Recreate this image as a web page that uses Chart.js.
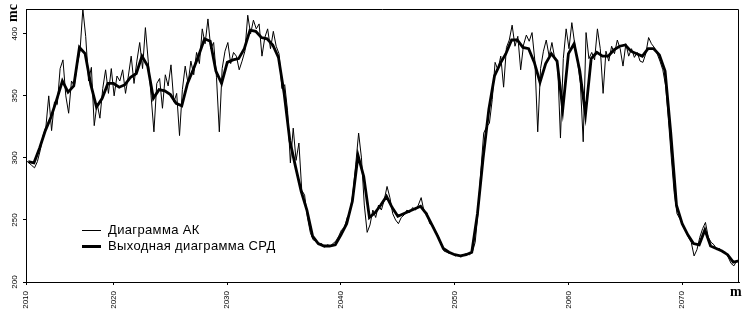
<!DOCTYPE html>
<html lang="ru">
<head>
  <meta charset="UTF-8">
  <title>Диаграмма АК / СРД</title>
  <script src="https://cdn.jsdelivr.net/npm/chart.js"></script>
  <style>
body {
  margin: 0;
  background: #fff;
}
.wrap {
  position: relative;
  width: 744px;
  height: 315px;
}
.legend-line {
  position: absolute;
  left: 82px;
  width: 19px;
  background: #000;
}
.legend-text {
  position: absolute;
  left: 108px;
  font: 13px/13px "Liberation Sans", Arial, sans-serif;
  letter-spacing: 0.35px;
  color: #000;
  white-space: nowrap;
}
.unit {
  position: absolute;
  font: bold 14px/14px "Liberation Serif", "Times New Roman", serif;
  color: #000;
}
  </style>
</head>
<body>
  <div class="wrap">
    <canvas id="chart" width="744" height="315"></canvas>

    <div class="legend-line" style="top:230px;height:1px"></div>
    <div class="legend-text" style="top:223px">Диаграмма АК</div>
    <div class="legend-line" style="top:245px;height:3px"></div>
    <div class="legend-text" style="top:239px">Выходная диаграмма СРД</div>

    <div class="unit" style="left:4px;top:6px;width:18px;text-align:center;transform:rotate(-90deg)">mc</div>
    <div class="unit" style="left:730px;top:285px">m</div>
  </div>

  <script>
    // x axis: first tick sits on the axis start but is labelled 2010
    var xTickValues = [2012.3, 2020, 2030, 2040, 2050, 2060, 2070];
    var xTickLabels = ['2010', '2020', '2030', '2040', '2050', '2060', '2070'];
    var yTickValues = [200, 250, 300, 350, 400];

    // Диаграмма АК, sampled every 0.25 from 2012.3
    var akStart = 2012.3, akStep = 0.25;
    var akValues = [
      298,296,294,292,297,306,318,325,350,322,
      345,343,372,379,350,336,362,358,375,386,
      420,398,362,373,326,344,332,356,371,352,
      372,350,366,362,371,352,366,382,360,378,
      393,372,405,378,350,321,360,364,340,367,
      358,375,345,352,318,355,374,360,378,367,
      385,376,404,392,412,388,393,365,321,372,
      386,393,376,385,382,371,378,386,415,400,
      411,404,408,382,397,404,388,402,390,384,
      356,359,338,296,324,298,312,274,270,252,
      240,234,233,230,231,228,230,229,231,233,
      237,242,244,252,256,272,295,320,300,262,
      240,246,258,252,262,258,266,277,268,255,
      250,247,252,254,258,256,260,258,262,268,
      257,256,247,246,241,237,231,225,224,223,
      223,221,222,220,222,223,222,224,232,256,
      290,320,325,328,347,377,371,382,357,389,
      395,407,390,398,371,391,399,394,401,378,
      321,372,386,395,382,393,380,376,316,380,
      404,388,409,392,378,360,313,401,380,385,
      379,404,388,352,386,378,390,384,395,388,
      374,392,382,388,381,385,378,377,384,397,
      392,389,384,378,371,358,330,300,272,255,
      251,247,242,236,232,221,226,236,243,248,
      236,232,230,226,227,224,224,220,215,213,
      217
    ];

    // Выходная диаграмма СРД, sampled every 0.5 from 2012.5
    var srdStart = 2012.5, srdStep = 0.5;
    var srdValues = [
      297,296,308,322,333,347,362,353,358,389,
      384,359,341,348,360,360,357,359,365,368,
      382,374,348,355,354,351,344,342,360,371,
      383,396,394,370,360,377,379,380,388,403,
      402,397,396,391,381,352,314,293,273,258,
      237,231,229,229,230,238,247,265,302,285,
      252,256,262,269,260,253,255,257,259,261,
      255,246,237,227,224,222,221,222,224,255,
      300,339,366,376,384,395,395,389,388,377,
      361,376,384,378,339,384,392,370,335,380,
      385,382,382,387,390,391,386,384,382,388,
      388,383,370,320,262,247,238,231,230,242,
      229,227,225,222,216,217
    ];

    function toPoints(start, step, values) {
      return values.map(function(v, i) {
        return { x: start + i * step, y: v };
      });
    }

    // top and right edges of the plot frame
    var framePlugin = {
      id: 'frame',
      afterDraw: function(chart) {
        var a = chart.chartArea;
        var c = chart.ctx;
        c.save();
        c.strokeStyle = '#000';
        c.lineWidth = 1;
        c.beginPath();
        c.moveTo(a.left, a.top + 0.5);
        c.lineTo(a.right - 0.5, a.top + 0.5);
        c.lineTo(a.right - 0.5, a.bottom);
        c.stroke();
        c.restore();
      }
    };

    var tickFont = { family: '"Liberation Sans", Arial, sans-serif', size: 8 };

    new Chart(document.getElementById('chart').getContext('2d'), {
      type: 'line',
      data: {
        datasets: [{
          label: 'Выходная диаграмма СРД',
          data: toPoints(srdStart, srdStep, srdValues),
          borderColor: '#000',
          borderWidth: 2.8,
          pointRadius: 0,
          tension: 0,
          order: 0
        }, {
          label: 'Диаграмма АК',
          data: toPoints(akStart, akStep, akValues),
          borderColor: '#000',
          borderWidth: 1,
          pointRadius: 0,
          tension: 0,
          order: 1
        }]
      },
      options: {
        responsive: false,
        animation: false,
        layout: { padding: { top: 9, right: 5, left: 0, bottom: 0 } },
        plugins: {
          legend: { display: false },
          tooltip: { enabled: false }
        },
        scales: {
          x: {
            type: 'linear',
            min: 2012.3,
            max: 2075,
            afterBuildTicks: function(scale) {
              scale.ticks = xTickValues.map(function(v) { return { value: v }; });
            },
            afterFit: function(scale) { scale.height = 33; },
            grid: { drawOnChartArea: false, tickLength: 3, color: '#000' },
            border: { color: '#000', width: 1 },
            ticks: {
              autoSkip: false,
              minRotation: 90,
              maxRotation: 90,
              padding: 6,
              color: '#000',
              font: tickFont,
              callback: function(v, i) { return xTickLabels[i]; }
            }
          },
          y: {
            min: 200,
            max: 420,
            afterBuildTicks: function(scale) {
              scale.ticks = yTickValues.map(function(v) { return { value: v }; });
            },
            afterFit: function(scale) { scale.width = 26; },
            grid: { drawOnChartArea: false, tickLength: 3, color: '#000' },
            border: { color: '#000', width: 1 },
            ticks: {
              minRotation: 90,
              maxRotation: 90,
              crossAlign: 'center',
              padding: 2,
              color: '#000',
              font: tickFont
            }
          }
        }
      },
      plugins: [framePlugin]
    });
  </script>
</body>
</html>
